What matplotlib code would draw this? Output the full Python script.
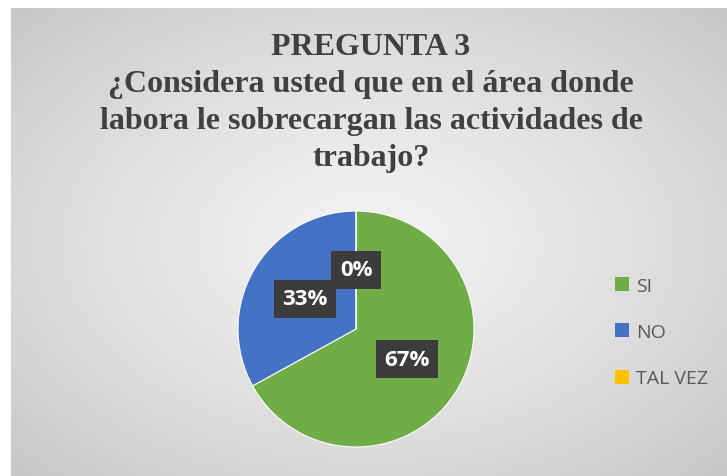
import numpy as np
import matplotlib
matplotlib.use("Agg")
import matplotlib.pyplot as plt

# data
categories = ["SI", "NO", "TAL VEZ"]
values = [67, 33, 0]
colors = ["#70ad47", "#4472c4", "#ffc000"]
title = "PREGUNTA 3\n¿Considera usted que en el área donde\nlabora le sobrecargan las actividades de\ntrabajo?"

W, H = 727, 477
fig = plt.figure(figsize=(W / 100, H / 100), dpi=100)
fig.patch.set_facecolor("white")

# gray radial gradient background of the chart area
bg = fig.add_axes([11 / W, 0, (W - 11) / W, (H - 9) / H])
bg.set_axis_off()
yy, xx = np.mgrid[-1:1:200j, -1:1:300j]
r = np.sqrt(xx ** 2 + yy ** 2) / np.sqrt(2)
shade = 0.95 - 0.17 * r ** 1.3
bg.imshow(shade, cmap="gray", vmin=0, vmax=1, aspect="auto",
          extent=[0, 1, 0, 1], interpolation="bicubic")

fig.text(371 / W, 1 - 33 / H, title, ha="center", va="top",
         family="Liberation Serif", fontweight="bold", fontsize=23,
         color="#404040", linespacing=1.36)

# pie
cx, cy, rad = 356, 330, 118
ax = fig.add_axes([(cx - rad) / W, (H - cy - rad) / H, 2 * rad / W, 2 * rad / H])
wedges, texts, autotexts = ax.pie(
    values, colors=colors, startangle=90, counterclock=False,
    autopct="%d%%", pctdistance=0.5,
    wedgeprops=dict(edgecolor="white", linewidth=0.8))
for t in autotexts:
    t.set_color("white")
    t.set_fontweight("bold")
    t.set_fontsize(16)
    t.set_family("Open Sans")
    t.set_bbox(dict(boxstyle="square,pad=0.38", facecolor="#3c3c3c",
                    edgecolor="none"))
ax.set_xlim(-1, 1)
ax.set_ylim(-1, 1)
ax.set_aspect("equal")

leg = fig.legend(wedges, categories, loc="center left",
                 bbox_to_anchor=(597 / W, 1 - 333 / H), frameon=False,
                 handlelength=0.75, handleheight=0.75, handletextpad=0.35,
                 labelspacing=1.45, prop={"family": "Open Sans", "size": 14})
for t, h in zip(leg.get_texts(), leg.legend_handles):
    t.set_color("#595959")
    h.set_edgecolor("none")
    h.set_height(14 / 100 * 72)
    h.set_width(14 / 100 * 72)

fig.savefig("out.png", dpi=100, facecolor=fig.get_facecolor())
